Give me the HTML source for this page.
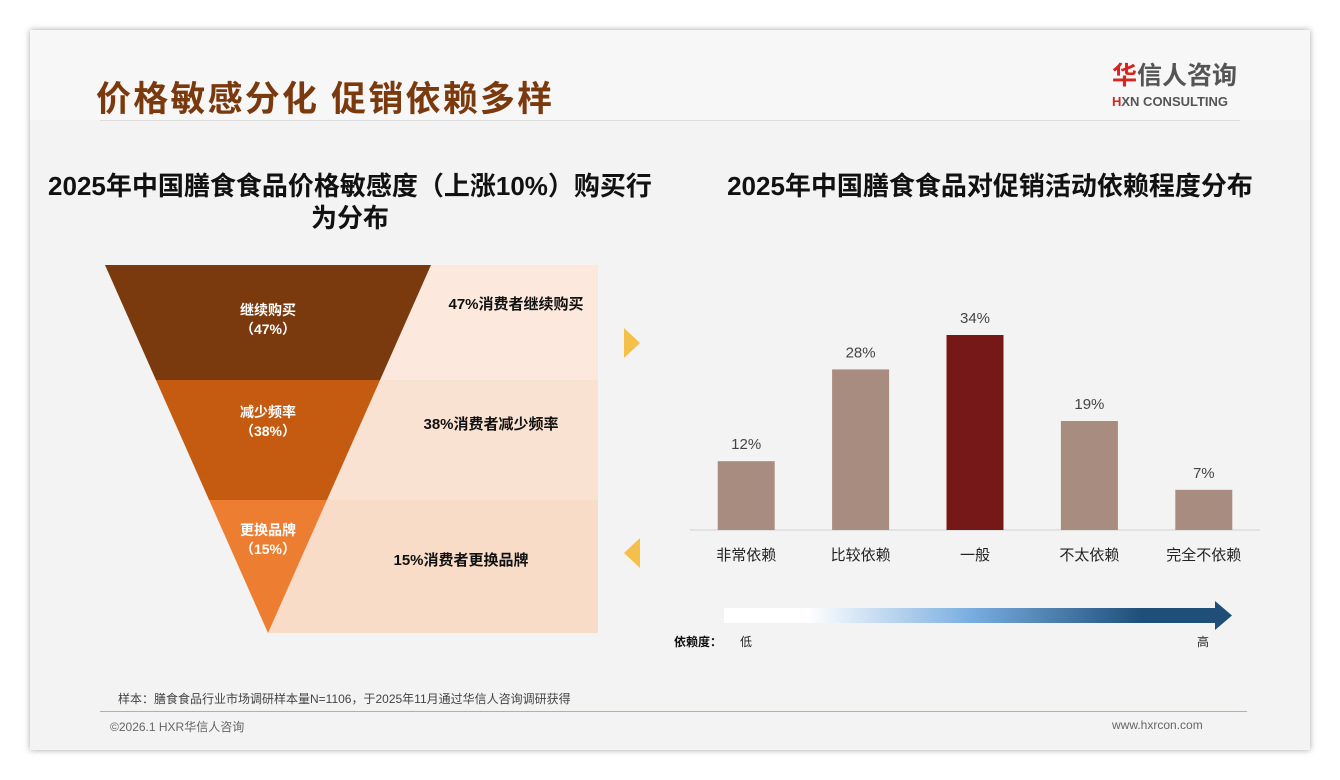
<!DOCTYPE html>
<html><head><meta charset="utf-8"><style>
body{margin:0;width:1340px;height:780px;background:#fff;font-family:"Liberation Sans","Noto Sans CJK SC",sans-serif;position:relative;overflow:hidden}
.card{position:absolute;left:30px;top:30px;width:1280px;height:720px;background:#f3f3f3;box-shadow:0 0 6px rgba(0,0,0,.35)}
.abs{position:absolute}
</style></head><body>
<div class="card"></div>
<div class="abs" style="left:30px;top:30px;width:1280px;height:90px;background:#f7f7f7"></div>
<div class="abs" style="left:96px;top:71px;font-size:35px;font-weight:bold;color:#7b3a0e;letter-spacing:2.2px">价格敏感分化 促销依赖多样</div>
<div class="abs" style="left:1112px;top:62px;font-size:25px;font-weight:bold;color:#555;line-height:28px"><span style="color:#d9231d">华</span>信人咨询</div>
<div class="abs" style="left:1112px;top:94px;font-size:13px;font-weight:bold;color:#555"><span style="color:#d9231d">H</span>XN CONSULTING</div>
<div class="abs" style="left:100px;top:120px;width:1140px;height:1px;background:#ddd"></div>
<div class="abs" style="left:40px;top:170px;width:620px;text-align:center;font-size:26px;font-weight:bold;color:#111;line-height:32px">2025年中国膳食食品价格敏感度（上涨10%）购买行为分布</div>
<div class="abs" style="left:690px;top:170px;width:600px;text-align:center;font-size:26px;font-weight:bold;color:#111;line-height:32px">2025年中国膳食食品对促销活动依赖程度分布</div>
<svg class="abs" style="left:0;top:0" width="1340" height="780">
<defs><linearGradient id="g" x1="0" x2="1"><stop offset="0" stop-color="#fff"/><stop offset="0.17" stop-color="#fff"/><stop offset="0.5" stop-color="#7aaee0"/><stop offset="0.85" stop-color="#1f4e79"/><stop offset="1" stop-color="#1f4e79"/></linearGradient></defs>
<g id="funnel"></g>
<polygon points="624,328 640,343 624,358" fill="#f5c04a"/>
<polygon points="640,538 624,553 640,568" fill="#f5c04a"/>
<line x1="690" y1="530" x2="1260" y2="530" stroke="#d0d0d0"/>
<g id="bars"></g>
<rect x="724" y="608" width="492" height="15" fill="url(#g)"/>
<polygon points="1215,601 1232,615.5 1215,630" fill="#1f4e79"/>
<text x="674" y="646" font-size="12" font-weight="bold" fill="#111">依赖度：</text>
<text x="740" y="646" font-size="12" fill="#222">低</text>
<text x="1197" y="646" font-size="12" fill="#222">高</text>
</svg>
<div class="abs" style="left:118px;top:690px;font-size:12px;color:#444">样本：膳食食品行业市场调研样本量N=1106，于2025年11月通过华信人咨询调研获得</div>
<div class="abs" style="left:100px;top:711px;width:1147px;height:1px;background:#c9a897"></div>
<div class="abs" style="left:110px;top:718px;font-size:12px;color:#666">©2026.1 HXR华信人咨询</div>
<div class="abs" style="left:1112px;top:718px;font-size:12px;color:#666">www.hxrcon.com</div>
<script>
const ns='http://www.w3.org/2000/svg';
// funnel data
const funnelLabels=['继续购买','减少频率','更换品牌'];
const funnelValues=[47,38,15];
const funnelColors=['#7b3a0e','#c55a11','#ed7d31'];
const panelColors=['#fce8dc','#fae2d2','#f8dcc8'];
const fg=document.getElementById('funnel');
const fTop=265,fBot=633,apexX=268,topHalf=163,panelRight=598;
const bandY=[265,380,500,633];
function halfW(y){return topHalf*(fBot-y)/(fBot-fTop);}
function mk(t,a){const e=document.createElementNS(ns,t);for(const k in a)e.setAttribute(k,a[k]);return e;}
funnelLabels.forEach((lab,i)=>{
  const y0=bandY[i],y1=bandY[i+1];
  const p=mk('polygon',{points:`${apexX+halfW(y0)},${y0} ${panelRight},${y0} ${panelRight},${y1} ${apexX+halfW(y1)},${y1}`,fill:panelColors[i]});
  
  
  fg.appendChild(p);
});
funnelLabels.forEach((lab,i)=>{
  const y0=bandY[i],y1=bandY[i+1];
  const s=mk('polygon',{points:`${apexX-halfW(y0)},${y0} ${apexX+halfW(y0)},${y0} ${apexX+halfW(y1)},${y1} ${apexX-halfW(y1)},${y1}`,fill:funnelColors[i]});
  
  
  fg.appendChild(s);
  const ty=[315,417,535][i];
  const t1=mk('text',{x:apexX,y:ty,'text-anchor':'middle','font-size':14,'font-weight':'bold',fill:'#fff'});
  t1.textContent=lab;
  
  
  fg.appendChild(t1);
  const t2=mk('text',{x:apexX,y:ty+19,'text-anchor':'middle','font-size':14,'font-weight':'bold',fill:'#fff'});
  t2.textContent='（'+funnelValues[i]+'%）';
  
  
  fg.appendChild(t2);
  const dx=[516,491,461][i],dy=[309,429,565][i];
  const d=mk('text',{x:dx,y:dy,'text-anchor':'middle','font-size':15,'font-weight':'bold',fill:'#111'});
  d.textContent=funnelValues[i]+'%消费者'+lab;
  
  
  fg.appendChild(d);
});
// bar data
const categories=['非常依赖','比较依赖','一般','不太依赖','完全不依赖'];
const values=[12,28,34,19,7];
const highlight=[false,false,true,false,false];
const bg=document.getElementById('bars');
const x0=689,step=114.4,bw=57,base=530,scale=195/34;
function xc(i){return x0+step*(i+0.5);}
function yv(v){return base-v*scale;}
categories.forEach((c,i)=>{
  const r=mk('rect',{x:xc(i)-bw/2,y:yv(values[i]),width:bw,height:base-yv(values[i]),fill:highlight[i]?'#761818':'#a98c80'});
  
  
  bg.appendChild(r);
  const v=mk('text',{x:xc(i),y:yv(values[i])-12,'text-anchor':'middle','font-size':15,fill:'#444'});
  v.textContent=values[i]+'%';
  
  
  bg.appendChild(v);
  const l=mk('text',{x:xc(i),y:560,'text-anchor':'middle','font-size':15,fill:'#222'});
  l.textContent=c;
  
  
  bg.appendChild(l);
});
</script>
</body></html>
